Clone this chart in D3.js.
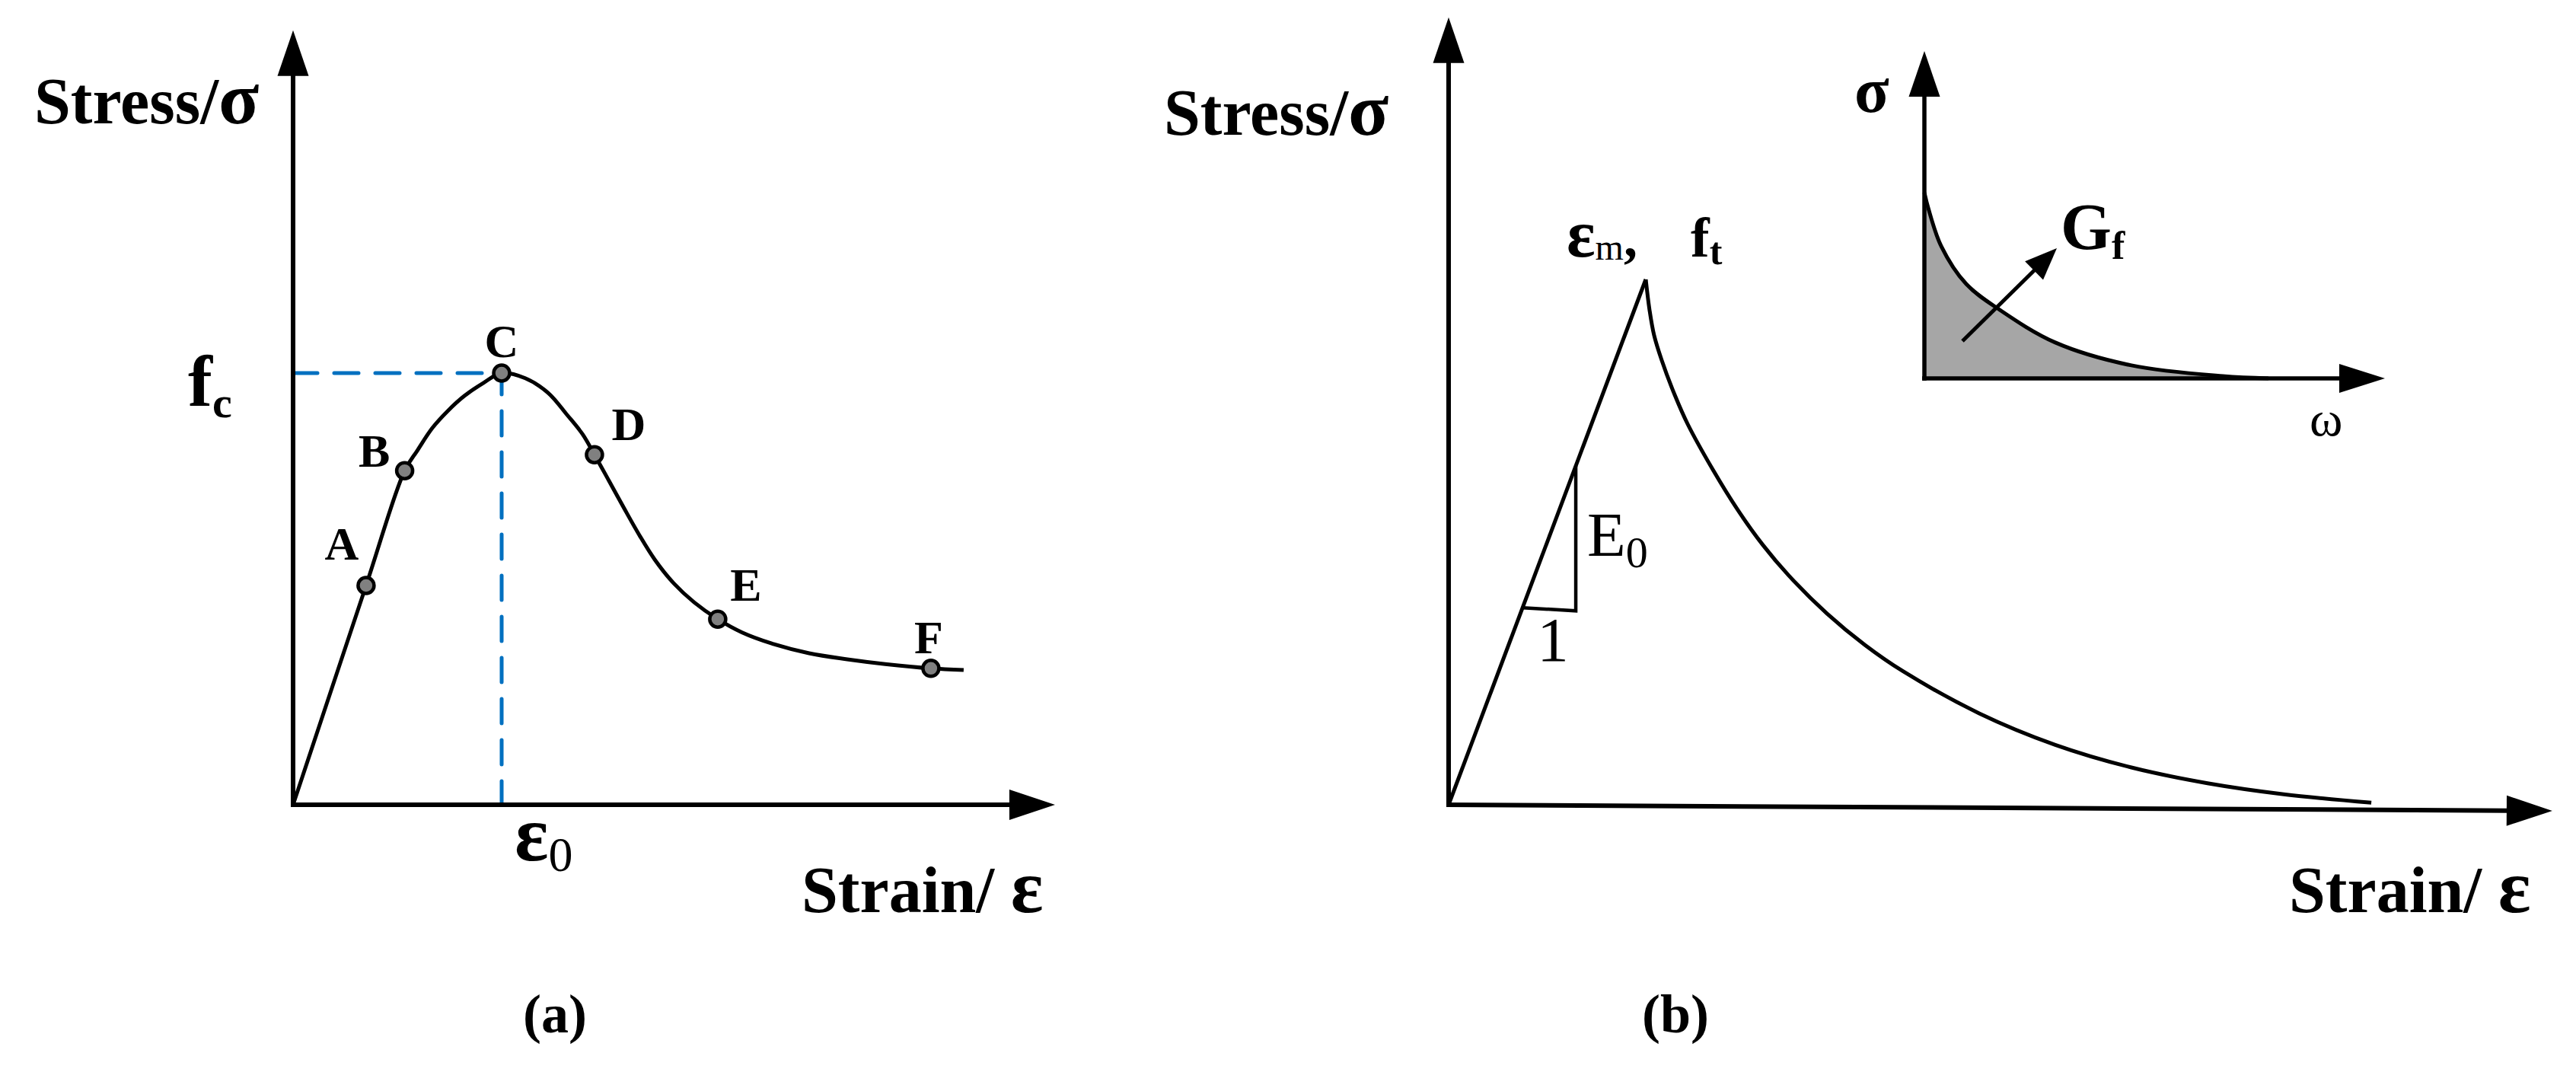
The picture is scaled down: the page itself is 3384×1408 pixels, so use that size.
<!DOCTYPE html>
<html>
<head>
<meta charset="utf-8">
<script src="https://cdn.jsdelivr.net/npm/d3@7"></script>
<style>
  body { margin: 0; background: #fff; }
  svg { display: block; }
  text { font-family: "Liberation Serif", "Times New Roman", serif; fill: #000; }
</style>
</head>
<body>
<svg id="fig"></svg>
<script>
// (a) compression curve, strain / eps0 and stress / fc
const strainA = [0, 0.350, 0.535, 0.595, 0.668, 0.741, 0.821, 0.912, 1, 1.113, 1.223, 1.314, 1.387, 1.445,
                 1.515, 1.588, 1.661, 1.734, 1.825, 1.923, 2.036, 2.153, 2.292, 2.474, 2.657, 2.839, 3.058, 3.215];
const stressA = [0, 0.508, 0.774, 0.820, 0.873, 0.912, 0.947, 0.977, 1, 0.988, 0.954, 0.903, 0.859, 0.811,
                 0.750, 0.686, 0.624, 0.568, 0.513, 0.469, 0.430, 0.399, 0.374, 0.351, 0.337, 0.326, 0.316, 0.312];
const pointNames = ['A', 'B', 'C', 'D', 'E', 'F'];
const pointStrain = [0.350, 0.535, 1, 1.445, 2.036, 3.058];
const pointStress = [0.508, 0.774, 1, 0.811, 0.430, 0.316];

// (b) tension curve, strain / eps_m and stress / ft
const riseStrain = [0, 1];
const riseStress = [0, 1];
const softStrain = [1, 1.019, 1.042, 1.081, 1.147, 1.212, 1.340, 1.467, 1.595, 1.726, 1.919, 2.112, 2.305,
                    2.691, 3.077, 3.463, 3.849, 4.236, 4.680];
const softStress = [1, 0.942, 0.894, 0.846, 0.780, 0.725, 0.638, 0.561, 0.494, 0.436, 0.364, 0.304, 0.254,
                    0.174, 0.114, 0.071, 0.041, 0.020, 0.004];
const slopeStrain = [0.375, 0.645];   // E0 triangle along the rising branch

// (b) inset, stress vs crack opening
const crackW = [0, 0.05, 0.22, 0.55, 0.99, 1.72, 2.72, 3.92, 4.52];
const crackS = [1, 0.918, 0.713, 0.508, 0.369, 0.193, 0.070, 0.012, 0];
const gfArrow = [[0.5, 0.201], [1.74, 0.701]];

// axis extents (in data units) where the arrow tips sit
const axisA = {x: 3.653, y: 1.794};
const axisB = {x: 5.598, y: 1.499, tilt: -0.0116};
const axisI = {x: 6.05, y: 1.762};

// label offsets from the points (pixels)
const labelDx = [-32, -40, 0, 45, 37, -3];
const labelDy = [-34, -5, -21, -19, -24, -20];

const W = 3384, H = 1408;
const svg = d3.select('#fig').attr('width', W).attr('height', H);

const xA = d3.scaleLinear().domain([0, 1]).range([385, 659]);
const yA = d3.scaleLinear().domain([0, 1]).range([1057, 490]);
const xB = d3.scaleLinear().domain([0, 1]).range([1903, 2162]);
const yB = d3.scaleLinear().domain([0, 1]).range([1057, 367]);
const xI = d3.scaleLinear().domain([0, 1]).range([2528, 2628]);
const yI = d3.scaleLinear().domain([0, 1]).range([497, 253]);

function arrow(g, p0, p1, len, half, sw) {
    const L = Math.hypot(p1[0] - p0[0], p1[1] - p0[1]);
    const ux = (p1[0] - p0[0]) / L, uy = (p1[1] - p0[1]) / L;
    const bx = p1[0] - ux * len, by = p1[1] - uy * len;
    g.append('line')
        .attr('x1', p0[0]).attr('y1', p0[1])
        .attr('x2', bx + ux * 2).attr('y2', by + uy * 2)
        .attr('stroke', '#000')
        .attr('stroke-width', sw);
    g.append('path')
        .attr('d', 'M' + p1[0] + ',' + p1[1] +
            'L' + (bx - uy * half) + ',' + (by + ux * half) +
            'L' + (bx + uy * half) + ',' + (by - ux * half) + 'Z')
        .attr('fill', '#000');
}

// parts: [text, size, weight, baseline shift]
function label(g, x, y, parts, anchor) {
    const t = g.append('text')
        .attr('x', x)
        .attr('y', y)
        .attr('text-anchor', anchor || 'start');
    parts.forEach(p => {
        t.append('tspan')
            .attr('y', y + (p[3] || 0))
            .attr('font-size', p[1])
            .attr('font-weight', p[2])
            .text(p[0]);
    });
    return t;
}

const smooth = d3.line().curve(d3.curveCatmullRom.alpha(0.5));

// ---------- panel (a) ----------
const ga = svg.append('g');

ga.append('path')
    .attr('d', d3.line()([[xA(0), yA(1)], [xA(1), yA(1)], [xA(1), yA(0)]]))
    .attr('fill', 'none')
    .attr('stroke', '#0070c0')
    .attr('stroke-width', 5)
    .attr('stroke-dasharray', '32 22')
    .attr('stroke-linecap', 'round');

arrow(ga, [xA(0), yA(0) + 3], [xA(0), yA(axisA.y)], 60, 20.5, 6);
arrow(ga, [xA(0) - 3, yA(0)], [xA(axisA.x), yA(0)], 60, 20, 6);

ga.append('path')
    .attr('d', smooth(strainA.map((s, i) => [xA(s), yA(stressA[i])])))
    .attr('fill', 'none')
    .attr('stroke', '#000')
    .attr('stroke-width', 5)
    .attr('stroke-linejoin', 'round');

ga.selectAll('circle')
    .data(pointNames)
    .join('circle')
    .attr('cx', (d, i) => xA(pointStrain[i]))
    .attr('cy', (d, i) => yA(pointStress[i]))
    .attr('r', 10.5)
    .attr('fill', '#808080')
    .attr('stroke', '#000')
    .attr('stroke-width', 4.5);

ga.selectAll('text.pt')
    .data(pointNames)
    .join('text')
    .attr('class', 'pt')
    .attr('x', (d, i) => xA(pointStrain[i]) + labelDx[i])
    .attr('y', (d, i) => yA(pointStress[i]) + labelDy[i])
    .attr('text-anchor', 'middle')
    .attr('font-size', 62)
    .attr('font-weight', 'bold')
    .text(d => d);

label(ga, 45, 162, [['Stress/', 86, 'bold'], ['σ', 98, 'bold']]);
label(ga, 247, 533, [['f', 96, 'bold'], ['c', 58, 'bold', 15]]);
label(ga, 676, 1130, [['ε', 104, 'bold'], ['0', 64, 'normal', 14]]);
label(ga, 1053, 1198, [['Strain/ ', 86, 'bold'], ['ε', 100, 'bold']]);
label(ga, 729, 1356, [['(a)', 72, 'bold']], 'middle');

// ---------- panel (b) ----------
const gb = svg.append('g');

arrow(gb, [xB(0), yB(0) + 3], [xB(0), yB(axisB.y)], 60, 20.5, 6);
arrow(gb, [xB(0) - 3, yB(0)], [xB(axisB.x), yB(axisB.tilt)], 60, 20, 6);

gb.append('path')
    .attr('d', d3.line()(riseStrain.map((s, i) => [xB(s), yB(riseStress[i])])))
    .attr('fill', 'none')
    .attr('stroke', '#000')
    .attr('stroke-width', 5);

gb.append('path')
    .attr('d', smooth(softStrain.map((s, i) => [xB(s), yB(softStress[i])])))
    .attr('fill', 'none')
    .attr('stroke', '#000')
    .attr('stroke-width', 5);

// E0 slope triangle
gb.append('path')
    .attr('d', d3.line()([
        [xB(slopeStrain[0]), yB(slopeStrain[0])],
        [xB(slopeStrain[1]), yB(slopeStrain[0]) + 4],
        [xB(slopeStrain[1]), yB(slopeStrain[1])]
    ]))
    .attr('fill', 'none')
    .attr('stroke', '#000')
    .attr('stroke-width', 4.5);

label(gb, 1529, 177, [['Stress/', 86, 'bold'], ['σ', 98, 'bold']]);
label(gb, 3007, 1198, [['Strain/ ', 86, 'bold'], ['ε', 100, 'bold']]);
label(gb, 2201, 1356, [['(b)', 72, 'bold']], 'middle');
label(gb, 2058, 337, [['ε', 88, 'bold'], ['m', 48, 'normal', 4], [',', 72, 'bold']]);
label(gb, 2221, 337, [['f', 74, 'bold'], ['t', 50, 'bold', 10]]);
label(gb, 2085, 730, [['E', 83, 'normal'], ['0', 58, 'normal', 15]]);
label(gb, 2040, 868, [['1', 83, 'normal']], 'middle');

// inset
const gi = gb.append('g');
const inset = crackW.map((w, i) => [xI(w), yI(crackS[i])]);

gi.append('path')
    .attr('d', d3.area().x(d => d[0]).y0(yI(0)).y1(d => d[1]).curve(d3.curveCatmullRom.alpha(0.5))(inset))
    .attr('fill', '#a6a6a6');

arrow(gi, [xI(0), yI(0) + 3], [xI(0), yI(axisI.y)], 60, 20.5, 5.5);
arrow(gi, [xI(0) - 3, yI(0)], [xI(axisI.x), yI(0)], 60, 19, 5.5);

gi.append('path')
    .attr('d', smooth(inset))
    .attr('fill', 'none')
    .attr('stroke', '#000')
    .attr('stroke-width', 5);

arrow(gi, [xI(gfArrow[0][0]), yI(gfArrow[0][1])], [xI(gfArrow[1][0]), yI(gfArrow[1][1])], 42, 17, 5);

label(gi, 2436, 147, [['σ', 84, 'bold']]);
label(gi, 2707, 327, [['G', 86, 'bold'], ['f', 52, 'bold', 13]]);
label(gi, 3034, 572, [['ω', 66, 'normal']]);
</script>
</body>
</html>
